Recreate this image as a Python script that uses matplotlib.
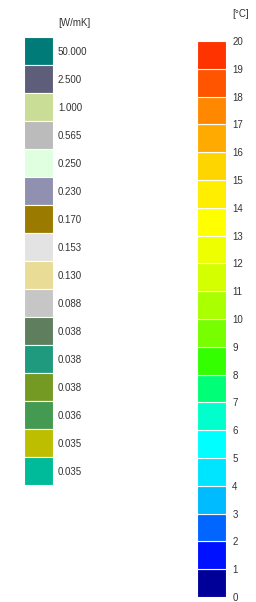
import numpy as np
import matplotlib
matplotlib.use("Agg")
import matplotlib.pyplot as plt

plt.rcParams['font.family'] = ['Liberation Sans', 'DejaVu Sans']

# thermal conductivity legend
lambda_labels = ['50.000', '2.500', '1.000', '0.565', '0.250', '0.230', '0.170', '0.153',
                 '0.130', '0.088', '0.038', '0.038', '0.038', '0.036', '0.035', '0.035']
lambda_colors = ['#007b78', '#5e5e7a', '#cadd96', '#bbbbbb', '#e0ffe0', '#9090b0', '#9a7b00', '#e3e3e3',
                 '#e8dc96', '#c6c6c6', '#5e7e5e', '#209a7e', '#759a23', '#459a52', '#bebe00', '#00bb99']

# temperature scale (bottom to top)
temp_levels = list(range(0, 21))
temp_colors = ['#000099', '#0011ff', '#0066ff', '#00bbff', '#00e5ff', '#00ffff', '#00ffcc', '#00ff77',
               '#33ff00', '#77ff00', '#aaff00', '#d4ff00', '#eeff00', '#ffff00', '#ffee00', '#ffd500',
               '#ffaa00', '#ff8800', '#ff5500', '#ff3300']

W, H = 256, 602
fig = plt.figure(figsize=(W/100, H/100), dpi=100)
txt = '#333333'
fs = 7


def axes_px(x0, y0, x1, y1):    # pixel box (top-left origin) -> figure axes
    return fig.add_axes([x0/W, 1 - y1/H, (x1 - x0)/W, (y1 - y0)/H])


# left legend
axl = axes_px(24, 37, 53, 485)
n = len(lambda_labels)
axl.bar(np.zeros(n), np.ones(n), bottom=np.arange(n), width=1, align='edge',
        color=lambda_colors, edgecolor='white', linewidth=0.8)
axl.set_xlim(0, 1)
axl.set_ylim(n, 0)
axl.set_yticks(np.arange(n) + 0.5)
axl.set_yticklabels(lambda_labels)
axl.yaxis.tick_right()
axl.tick_params(axis='y', length=0, pad=3.5, labelsize=fs, labelcolor=txt)
axl.set_xticks([])
for s in axl.spines.values():
    s.set_visible(False)
fig.text(58/W, 1 - 23/H, '[W/mK]', fontsize=fs, color=txt, va='center', ha='left')

# right temperature scale
axr = axes_px(197, 41, 226, 597)
lo = np.array(temp_levels[:-1])
axr.bar(np.zeros(len(lo)), np.diff(temp_levels), bottom=lo, width=1, align='edge',
        color=temp_colors, edgecolor='white', linewidth=0.8)
axr.set_xlim(0, 1)
axr.set_ylim(0, 20)
axr.set_yticks(temp_levels)
axr.yaxis.tick_right()
axr.tick_params(axis='y', length=0, pad=4.5, labelsize=fs, labelcolor=txt)
axr.set_xticks([])
for s in axr.spines.values():
    s.set_visible(False)
fig.text(232/W, 1 - 14/H, '[°C]', fontsize=fs, color=txt, va='center', ha='left')

fig.savefig('out.png', dpi=100)
